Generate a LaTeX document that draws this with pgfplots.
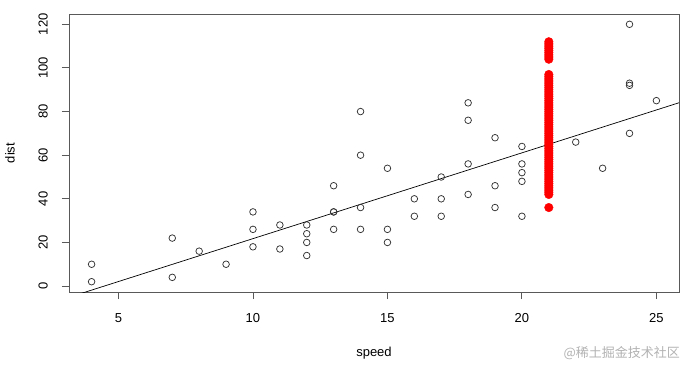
\documentclass[border=0pt]{standalone}
\usepackage{fontspec}
\setmainfont{Liberation Sans}
\newfontfamily\cjk{Noto Sans CJK SC}
\usepackage{graphicx}
\usepackage{pgfplots}
\pgfplotsset{compat=1.18}
\begin{document}
\begin{tikzpicture}[x=1pt,y=1pt]
\useasboundingbox (-69,-73) rectangle (617,292);
\begin{axis}[at={(0,0)}, anchor=south west, scale only axis, width=610pt, height=278pt,
  xmin=3.16, xmax=25.84, ymin=-2.72, ymax=124.72,
  xtick={5,10,15,20,25}, ytick={0,20,40,60,80,100,120},
  tick align=outside, major tick length=7pt, xtick pos=bottom, ytick pos=left,
  axis line style={black!65, line width=0.9pt},
  tick style={black!65, line width=0.9pt},
  font=\fontsize{13}{15}\selectfont,
  /pgf/number format/assume math mode=true,
  xticklabel style={anchor=north, inner sep=0pt, yshift=-14pt},
  yticklabel={\rotatebox{90}{\pgfmathprintnumber{\tick}}},
  yticklabel style={anchor=east, inner sep=0pt, xshift=-14pt},
  every axis x label/.style={at={(axis description cs:0.5,0)}, anchor=center, yshift=-61pt},
  every axis y label/.style={at={(axis description cs:0,0.5)}, anchor=center, xshift=-59pt, rotate=90},
  xlabel={speed}, ylabel={dist},
  clip=true]
\addplot[only marks, mark=o, mark size=3.3pt, mark options={black!80, line width=0.75pt}] coordinates {
(4,2)(4,10)(7,4)(7,22)(8,16)(9,10)(10,18)(10,26)(10,34)(11,17)(11,28)(12,14)(12,20)(12,24)(12,28)
(13,26)(13,34)(13,34)(13,46)(14,26)(14,36)(14,60)(14,80)(15,20)(15,26)(15,54)(16,32)(16,40)
(17,32)(17,40)(17,50)(18,42)(18,56)(18,76)(18,84)(19,36)(19,46)(19,68)(20,32)(20,48)(20,52)
(20,56)(20,64)(22,66)(23,54)(24,70)(24,92)(24,93)(24,120)(25,85)};
\addplot[black, line width=0.7pt] coordinates {(3.16,-5.153)(25.84,84.034)};
\addplot[only marks, mark=*, mark size=4.3pt, mark options={red, draw=red}] coordinates {
(21,36)(21,42)(21,43)(21,44)(21,45)(21,46)(21,47)(21,48)(21,49)(21,50)(21,51)(21,52)(21,53)
(21,54)(21,55)(21,56)(21,57)(21,58)(21,59)(21,60)(21,61)(21,62)(21,63)(21,64)(21,65)(21,66)
(21,67)(21,68)(21,69)(21,70)(21,71)(21,72)(21,73)(21,74)(21,75)(21,76)(21,77)(21,78)(21,79)
(21,80)(21,81)(21,82)(21,83)(21,84)(21,85)(21,86)(21,87)(21,88)(21,89)(21,90)(21,91)(21,92)
(21,93)(21,94)(21,95)(21,96)(21,97)(21,104)(21,105)(21,106)(21,107)(21,108)(21,109)(21,110)(21,111)(21,112)};
\end{axis}
\node[anchor=east, text=black!30, font=\cjk\fontsize{13}{15}\selectfont, inner sep=0pt] at (611,-61) {@稀土掘金技术社区};
\end{tikzpicture}
\end{document}
